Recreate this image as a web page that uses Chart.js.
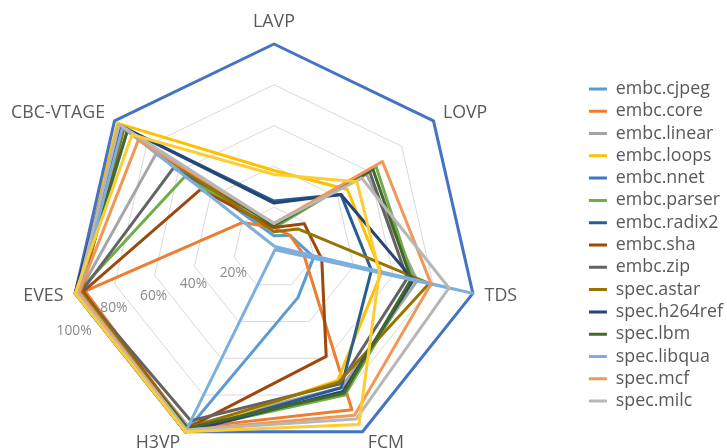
<!DOCTYPE html>
<html>
<head>
<meta charset="utf-8">
<title>Radar</title>
<script src="https://cdn.jsdelivr.net/npm/chart.js@4.4.1/dist/chart.umd.min.js"></script>
<style>
  html, body { margin: 0; padding: 0; background: #ffffff; }
  #wrap { width: 727px; height: 448px; }
</style>
</head>
<body>
<div id="wrap"><canvas id="chart" width="727" height="448"></canvas></div>
<script>
// Axes, clockwise from the top
const categories = ['LAVP', 'LOVP', 'TDS', 'FCM', 'H3VP', 'EVES', 'CBC-VTAGE'];
const tickValues = [20, 40, 60, 80, 100];
const tickLabels = ['20%', '40%', '60%', '80%', '100%'];

// Values in percent, one entry per axis above
const embcCjpeg   = [6, 10, 20, 27, 100, 98, 92];
const embcCore    = [10, 10, 15, 88, 98, 95, 20];
const embcLinear  = [12, 58, 72, 76, 97, 98, 74];
const embcLoops   = [38, 46, 54, 72, 100, 100, 98];
const embcNnet    = [100, 100, 100, 100, 100, 100, 100];
const embcParser  = [10, 64, 70, 80, 99, 99, 56];
const embcRadix2  = [23, 42, 49, 76, 100, 99, 95];
const embcSha     = [10, 19, 24, 59, 98, 96, 46];
const embcZip     = [12, 60, 67, 74, 94, 97, 63];
const specAstar   = [8, 15, 78, 73, 98, 97, 94];
const specH264ref = [22, 42, 70, 78, 100, 100, 96];
const specLbm     = [11, 62, 69, 79, 98, 99, 92];
const specLibqua  = [1, 1, 100, 1, 100, 98, 95];
const specMcf     = [12, 68, 79, 91, 99, 98, 85];
const specMilc    = [12, 55, 88, 93, 99, 99, 97];
const unlistedRun = [36, 52, 53, 96, 100, 100, 89];

const seriesNames = ['embc.cjpeg', 'embc.core', 'embc.linear', 'embc.loops', 'embc.nnet',
  'embc.parser', 'embc.radix2', 'embc.sha', 'embc.zip', 'spec.astar', 'spec.h264ref',
  'spec.lbm', 'spec.libqua', 'spec.mcf', 'spec.milc', ''];
const seriesValues = [embcCjpeg, embcCore, embcLinear, embcLoops, embcNnet, embcParser,
  embcRadix2, embcSha, embcZip, specAstar, specH264ref, specLbm, specLibqua, specMcf,
  specMilc, unlistedRun];
const seriesColors = ['#5B9BD5', '#ED7D31', '#A5A5A5', '#FFC000', '#4472C4', '#70AD47',
  '#255E91', '#9E480E', '#636363', '#997300', '#264478', '#43682B', '#7CAFDD', '#F1975A',
  '#B7B7B7', '#FFCD33'];

const textColor = '#595959';
const fontFamily = '"Open Sans", "Noto Sans", sans-serif';
const labelSize = 17.8;
const tickSize = 13.8;

// Category names around the rim and percentage labels beside the EVES spoke
const axisText = {
  id: 'axisText',
  afterDraw(chart) {
    const r = chart.scales.r;
    const ctx = chart.ctx;
    ctx.save();
    ctx.font = labelSize + 'px ' + fontFamily;
    ctx.fillStyle = textColor;
    categories.forEach((name, i) => {
      const deg = Math.round(r.getIndexAngle(i) * 180 / Math.PI) % 360;
      if (deg === 0) {
        const p = r.getPointPosition(i, r.drawingArea + 17);
        ctx.textAlign = 'center';
        ctx.textBaseline = 'alphabetic';
        ctx.fillText(name, p.x, p.y);
      } else {
        const p = r.getPointPosition(i, r.drawingArea + 12);
        ctx.textAlign = deg < 180 ? 'left' : 'right';
        ctx.textBaseline = 'middle';
        ctx.fillText(name, p.x, p.y);
      }
    });
    ctx.font = tickSize + 'px ' + fontFamily;
    ctx.fillStyle = '#8A8A8A';
    ctx.textAlign = 'center';
    ctx.textBaseline = 'middle';
    const spoke = categories.indexOf('EVES');
    const top = tickValues[tickValues.length - 1];
    tickValues.forEach((v, k) => {
      const p = r.getPointPositionForValue(spoke, v);
      const drop = 13 + v * 0.13 + (v === top ? 12 : 0);
      ctx.fillText(tickLabels[k], p.x - 1, p.y + drop);
    });
    ctx.restore();
  }
};

new Chart(document.getElementById('chart'), {
  type: 'radar',
  data: {
    labels: categories,
    datasets: seriesValues.map((vals, i) => ({
      label: seriesNames[i],
      data: vals,
      borderColor: seriesColors[i],
      backgroundColor: seriesColors[i],
      borderWidth: 3,
      borderJoinStyle: 'round',
      pointRadius: 0,
      pointHoverRadius: 0,
      fill: false,
      tension: 0,
      clip: false,
      order: -i
    }))
  },
  options: {
    responsive: false,
    devicePixelRatio: 1,
    animation: false,
    layout: { padding: { top: 42, right: -6, left: 0, bottom: 0 } },
    plugins: {
      tooltip: { enabled: false },
      legend: {
        position: 'right',
        labels: {
          usePointStyle: true,
          pointStyle: 'line',
          pointStyleWidth: 18,
          boxHeight: labelSize,
          padding: 4.5,
          color: textColor,
          font: { family: fontFamily, size: labelSize },
          filter: (item) => item.text !== '',
          sort: (a, b) => a.datasetIndex - b.datasetIndex
        }
      }
    },
    scales: {
      r: {
        min: 0,
        max: 100,
        ticks: { display: false, stepSize: 20 },
        grid: { color: '#D9D9D9', lineWidth: 1 },
        angleLines: { display: false },
        pointLabels: { display: false },
        afterFit(scale) {
          scale.xCenter = 274;
          scale.yCenter = 248;
          scale.drawingArea = 204;
        }
      }
    }
  },
  plugins: [axisText]
});
</script>
</body>
</html>
